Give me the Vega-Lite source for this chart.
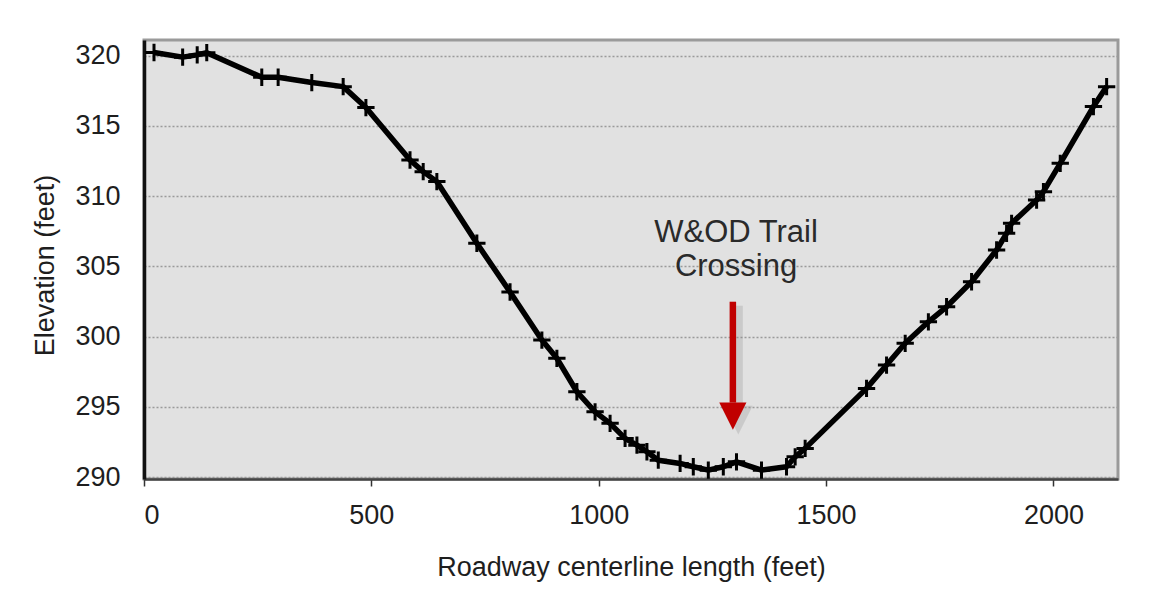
{
  "$schema": "https://vega.github.io/schema/vega-lite/v6.json",
  "width": 974,
  "height": 439,
  "autosize": {"type": "none"},
  "padding": {"left": 144, "top": 40, "right": 33, "bottom": 124},
  "background": "white",
  "config": {
    "font": "Liberation Sans",
    "view": {"fill": "#e1e1e1", "stroke": "#9a9a9a", "strokeWidth": 3}
  },
  "datasets": {
    "profile": [
      {"length": 22, "elevation": 320.22},
      {"length": 85, "elevation": 319.89},
      {"length": 117, "elevation": 320.05},
      {"length": 138, "elevation": 320.21},
      {"length": 259, "elevation": 318.46},
      {"length": 295, "elevation": 318.46},
      {"length": 369, "elevation": 318.08},
      {"length": 438, "elevation": 317.79},
      {"length": 488, "elevation": 316.3},
      {"length": 585, "elevation": 312.57},
      {"length": 614, "elevation": 311.74},
      {"length": 644, "elevation": 311.03},
      {"length": 732, "elevation": 306.64},
      {"length": 805, "elevation": 303.17},
      {"length": 875, "elevation": 299.75},
      {"length": 908, "elevation": 298.45},
      {"length": 952, "elevation": 296.07},
      {"length": 992, "elevation": 294.64},
      {"length": 1025, "elevation": 293.82},
      {"length": 1058, "elevation": 292.75},
      {"length": 1084, "elevation": 292.27},
      {"length": 1106, "elevation": 291.8},
      {"length": 1131, "elevation": 291.2},
      {"length": 1179, "elevation": 290.97},
      {"length": 1208, "elevation": 290.73},
      {"length": 1241, "elevation": 290.49},
      {"length": 1274, "elevation": 290.73},
      {"length": 1303, "elevation": 291.08},
      {"length": 1358, "elevation": 290.49},
      {"length": 1413, "elevation": 290.73},
      {"length": 1432, "elevation": 291.44},
      {"length": 1454, "elevation": 292.04},
      {"length": 1589, "elevation": 296.31},
      {"length": 1633, "elevation": 297.97},
      {"length": 1674, "elevation": 299.52},
      {"length": 1725, "elevation": 301.05},
      {"length": 1765, "elevation": 302.12},
      {"length": 1820, "elevation": 303.9},
      {"length": 1875, "elevation": 306.16},
      {"length": 1897, "elevation": 307.35},
      {"length": 1908, "elevation": 308.06},
      {"length": 1963, "elevation": 309.72},
      {"length": 1978, "elevation": 310.31},
      {"length": 2015, "elevation": 312.33},
      {"length": 2088, "elevation": 316.37},
      {"length": 2117, "elevation": 317.79}
    ],
    "note": [
      {"length": 1302, "elevation": 307.37, "label": "W&OD Trail"},
      {"length": 1302, "elevation": 304.95, "label": "Crossing"}
    ],
    "arrow": [
      {"length": 1295, "top": 302.48, "bottom": 295.3, "head": 294.34}
    ],
    "shadow": [
      {"length": 1307, "top": 302.2, "bottom": 295.0, "head": 294.05}
    ]
  },
  "layer": [
    {
      "data": {"name": "profile"},
      "mark": {"type": "line", "color": "black", "strokeWidth": 5.5, "strokeJoin": "round"},
      "encoding": {
        "x": {
          "field": "length", "type": "quantitative",
          "scale": {"domain": [0, 2142], "nice": false, "zero": false},
          "axis": {
            "title": "Roadway centerline length (feet)",
            "values": [0, 500, 1000, 1500, 2000],
            "format": "d",
            "grid": false,
            "domainColor": "#444", "domainWidth": 2.5,
            "tickColor": "#333", "tickSize": 7, "tickWidth": 1.5,
            "labelFontSize": 27, "labelColor": "#1e1e1e", "labelPadding": 16,
            "titleFontSize": 27, "titleFontWeight": "normal", "titleColor": "#1e1e1e",
            "titleBaseline": "middle", "titleY": 88
          }
        },
        "y": {
          "field": "elevation", "type": "quantitative",
          "scale": {"domain": [289.86, 321.11], "nice": false, "zero": false},
          "axis": {
            "title": "Elevation (feet)",
            "values": [290, 295, 300, 305, 310, 315, 320],
            "ticks": false,
            "domainColor": "#111", "domainWidth": 3.5,
            "grid": true, "gridColor": "#9a9a9a", "gridDash": [2, 2], "gridWidth": 1.5,
            "labelFontSize": 27, "labelColor": "#1e1e1e", "labelPadding": 24,
            "titleFontSize": 27, "titleFontWeight": "normal", "titleColor": "#1e1e1e",
            "titleBaseline": "middle", "titleX": -99, "titleY": 225
          }
        }
      }
    },
    {
      "data": {"name": "profile"},
      "mark": {"type": "point", "shape": "M-1,0L1,0M0,-1L0,1", "filled": false, "stroke": "black", "strokeWidth": 3, "size": 300, "opacity": 1},
      "encoding": {
        "x": {"field": "length", "type": "quantitative"},
        "y": {"field": "elevation", "type": "quantitative"}
      }
    },
    {
      "data": {"name": "shadow"},
      "mark": {"type": "rule", "color": "#888888", "strokeWidth": 9, "opacity": 0.25},
      "encoding": {
        "x": {"field": "length", "type": "quantitative"},
        "y": {"field": "top", "type": "quantitative"},
        "y2": {"field": "bottom"}
      }
    },
    {
      "data": {"name": "shadow"},
      "mark": {"type": "point", "shape": "M-1,-1L1,-1L0,1Z", "filled": true, "color": "#888888", "size": 820, "opacity": 0.25},
      "encoding": {
        "x": {"field": "length", "type": "quantitative"},
        "y": {"field": "head", "type": "quantitative"}
      }
    },
    {
      "data": {"name": "arrow"},
      "mark": {"type": "rule", "color": "#c00000", "strokeWidth": 6.5},
      "encoding": {
        "x": {"field": "length", "type": "quantitative"},
        "y": {"field": "top", "type": "quantitative"},
        "y2": {"field": "bottom"}
      }
    },
    {
      "data": {"name": "arrow"},
      "mark": {"type": "point", "shape": "M-1,-1L1,-1L0,1Z", "filled": true, "color": "#c00000", "size": 740, "opacity": 1},
      "encoding": {
        "x": {"field": "length", "type": "quantitative"},
        "y": {"field": "head", "type": "quantitative"}
      }
    },
    {
      "data": {"name": "note"},
      "mark": {"type": "text", "fontSize": 31, "color": "#2a2a2a", "align": "center", "baseline": "middle"},
      "encoding": {
        "x": {"field": "length", "type": "quantitative"},
        "y": {"field": "elevation", "type": "quantitative"},
        "text": {"field": "label"}
      }
    }
  ]
}
